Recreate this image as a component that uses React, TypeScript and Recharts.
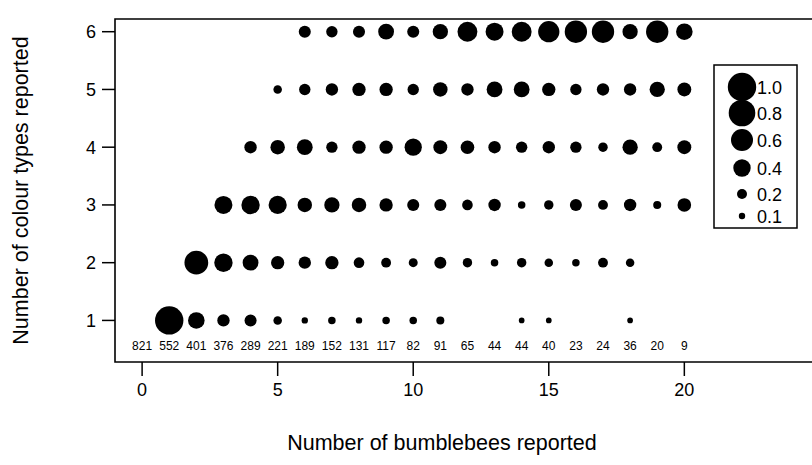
import { ScatterChart, Scatter, XAxis, YAxis, ReferenceArea } from "recharts";

// number of bumblebees reported (x) and respondents for each
const bees = [0, 1, 2, 3, 4, 5, 6, 7, 8, 9, 10, 11, 12, 13, 14, 15, 16, 17, 18, 19, 20];
const respondents = [821, 552, 401, 376, 289, 221, 189, 152, 131, 117, 82, 91, 65, 44, 44, 40, 23, 24, 36, 20, 9];

// share of respondents reporting n colour types, indexed by bee count
const oneColour = [null, 1.0, 0.34, 0.19, 0.18, 0.09, 0.05, 0.07, 0.05, 0.07, 0.07, 0.08, null, null, 0.04, 0.04, null, null, 0.04, null, null];
const twoColours = [null, null, 0.7, 0.42, 0.31, 0.22, 0.19, 0.22, 0.14, 0.12, 0.1, 0.18, 0.11, 0.07, 0.11, 0.09, 0.07, 0.12, 0.09, null, null];
const threeColours = [null, null, null, 0.4, 0.42, 0.41, 0.26, 0.29, 0.26, 0.22, 0.18, 0.18, 0.14, 0.19, 0.07, 0.11, 0.18, 0.12, 0.19, 0.08, 0.23];
const fourColours = [null, null, null, null, 0.19, 0.26, 0.31, 0.16, 0.22, 0.22, 0.37, 0.24, 0.23, 0.19, 0.16, 0.19, 0.16, 0.11, 0.29, 0.12, 0.24];
const fiveColours = [null, null, null, null, null, 0.09, 0.16, 0.19, 0.22, 0.22, 0.16, 0.26, 0.19, 0.31, 0.31, 0.22, 0.16, 0.19, 0.19, 0.29, 0.24];
const sixColours = [null, null, null, null, null, null, 0.18, 0.16, 0.18, 0.31, 0.18, 0.29, 0.49, 0.4, 0.49, 0.56, 0.62, 0.62, 0.29, 0.62, 0.34];

const colourRows = [oneColour, twoColours, threeColours, fourColours, fiveColours, sixColours];
const legendValues = [1.0, 0.8, 0.6, 0.4, 0.2, 0.1];

const xTicks = [0, 5, 10, 15, 20];
const yTicks = [1, 2, 3, 4, 5, 6];

const points = colourRows.flatMap((row, i) =>
  row.flatMap((share, j) => (share == null ? [] : [{ bees: bees[j], colours: i + 1, share }]))
);
const countPoints = bees.map((b, j) => ({ bees: b, colours: 1, n: respondents[j] }));

const FONT = "'Liberation Sans', Arial, sans-serif";
const R_MAX = 14.2;
// legend circle radii as drawn in the original key
const legendRadii = [14.2, 13.3, 11, 8.7, 5, 3.2];
const legendY = [87, 113, 140, 168, 194, 216];

const Bubble = (props: any) => {
  const { cx, cy, payload } = props;
  return <circle cx={cx} cy={cy} r={R_MAX * Math.sqrt(payload.share)} fill="#000" />;
};

const CountText = (props: any) => {
  const { cx, cy, payload } = props;
  return (
    <text x={cx} y={cy + 30} textAnchor="middle" fontSize={12} fontFamily={FONT} fill="#000">
      {payload.n}
    </text>
  );
};

export default function App() {
  return (
    <div style={{ position: "absolute", left: 0, top: 0, width: 812, height: 465, overflow: "hidden", background: "#fff" }}>
      <ScatterChart width={852} height={465} margin={{ top: 19, right: 5, bottom: 0, left: 0 }}>
        <XAxis
          type="number"
          dataKey="bees"
          domain={[-1, 26]}
          ticks={xTicks}
          allowDataOverflow
          height={103}
          axisLine={false}
          tickSize={14}
          tickMargin={7}
          tickLine={{ stroke: "#000", strokeWidth: 1.5 }}
          tick={{ fill: "#000", fontSize: 18, fontFamily: FONT }}
          label={{
            value: "Number of bumblebees reported",
            position: "insideBottom",
            offset: 15,
            dx: -39,
            style: { fill: "#000", fontSize: 21.5, fontFamily: FONT },
          }}
        />
        <YAxis
          type="number"
          dataKey="colours"
          domain={[0.28, 6.22]}
          ticks={yTicks}
          allowDataOverflow
          width={115}
          axisLine={false}
          tickSize={13}
          tickMargin={6}
          tickLine={{ stroke: "#000", strokeWidth: 1.5 }}
          tick={{ fill: "#000", fontSize: 18, fontFamily: FONT }}
          label={{
            value: "Number of colour types reported",
            angle: -90,
            position: "insideLeft",
            offset: 20,
            style: { fill: "#000", fontSize: 21.5, fontFamily: FONT, textAnchor: "middle" },
          }}
        />
        <ReferenceArea x1={-1} x2={26} y1={0.28} y2={6.22} fill="none" stroke="#000" strokeWidth={1.6} ifOverflow="visible" />
        <Scatter data={points} shape={Bubble} isAnimationActive={false} />
        <Scatter data={countPoints} shape={CountText} isAnimationActive={false} />
      </ScatterChart>
      <svg width={812} height={465} style={{ position: "absolute", left: 0, top: 0, pointerEvents: "none" }}>
        <rect x={714} y={65} width={83} height={163} fill="#fff" stroke="#000" strokeWidth={1.5} />
        {legendValues.map((v, i) => (
          <g key={v}>
            <circle cx={742} cy={legendY[i]} r={legendRadii[i]} fill="#000" />
            <text x={757} y={legendY[i] + 6.5} fontSize={18} fontFamily={FONT} fill="#000">
              {v.toFixed(1)}
            </text>
          </g>
        ))}
      </svg>
    </div>
  );
}
